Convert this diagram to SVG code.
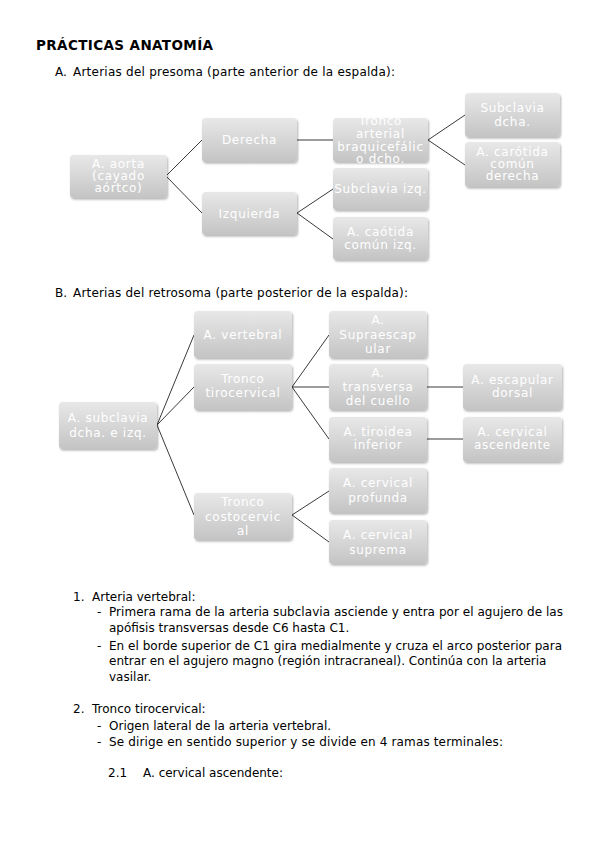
<svg xmlns="http://www.w3.org/2000/svg" width="599" height="848" viewBox="0 0 599 848">
<defs>
<linearGradient id="g" x1="0" y1="0" x2="0" y2="1">
<stop offset="0" stop-color="#e8e8e8"/>
<stop offset="1" stop-color="#c4c4c4"/>
</linearGradient>
<filter id="sh" x="-10%" y="-10%" width="125%" height="130%">
<feDropShadow dx="1" dy="1.5" stdDeviation="1" flood-color="#000" flood-opacity="0.3"/>
</filter>
</defs>
<style>
.bx{fill:url(#g);filter:url(#sh);}
.nt{font-family:"DejaVu Sans",sans-serif;font-size:12px;fill:#ffffff;text-anchor:middle;letter-spacing:0.7px;}
.tx{font-family:"DejaVu Sans",sans-serif;font-size:12px;fill:#000;}
.ti{font-family:"DejaVu Sans",sans-serif;font-size:13.5px;font-weight:bold;fill:#000;}
.cn{stroke:#3a3a3a;stroke-width:1;fill:none;}
</style>
<rect width="599" height="848" fill="#fff"/>

<text class="ti" x="36" y="50" textLength="177">PRÁCTICAS ANATOMÍA</text>
<text class="tx" x="55" y="76">A.</text>
<text class="tx" x="73" y="76" textLength="322">Arterias del presoma (parte anterior de la espalda):</text>
<text class="tx" x="55" y="297">B.</text>
<text class="tx" x="73" y="297" textLength="335">Arterias del retrosoma (parte posterior de la espalda):</text>

<g id="connectors">
<path class="cn" d="M166,176 L202,140 M166,176 L202,213"/>
<path class="cn" d="M297,140 L333,140"/>
<path class="cn" d="M428,140 L465,115 M428,140 L465,165"/>
<path class="cn" d="M297,213 L333,189 M297,213 L333,239"/>
<path class="cn" d="M157,425 L194,335 M157,425 L194,387 M157,425 L194,515"/>
<path class="cn" d="M292,387 L329,335 M292,387 L329,387 M292,387 L329,439"/>
<path class="cn" d="M427,387 L463,387"/>
<path class="cn" d="M427,439 L463,439"/>
<path class="cn" d="M292,515 L329,491 M292,515 L329,542"/>
</g>

<g id="aorta"><rect class="bx" x="70" y="155" width="97" height="43" rx="4"/>
<text class="nt" x="118.5" y="168">A. aorta</text><text class="nt" x="118.5" y="180">(cayado</text><text class="nt" x="118.5" y="192">aórtco)</text></g>
<g id="derecha"><rect class="bx" x="202" y="118" width="95" height="44" rx="4"/>
<text class="nt" x="249.5" y="144">Derecha</text></g>
<g id="izquierda"><rect class="bx" x="202" y="192" width="95" height="43" rx="4"/>
<text class="nt" x="249.5" y="218">Izquierda</text></g>
<g id="tronco-braquicefalico"><rect class="bx" x="333" y="118" width="95" height="44" rx="4"/>
<text class="nt" x="380.5" y="125">Tronco</text><text class="nt" x="380.5" y="138">arterial</text><text class="nt" x="380.5" y="150.5">braquicefálic</text><text class="nt" x="380.5" y="163">o dcho.</text></g>
<g id="subclavia-izq"><rect class="bx" x="333" y="168" width="95" height="42" rx="4"/>
<text class="nt" x="380.5" y="193">Subclavia izq.</text></g>
<g id="carotida-izq"><rect class="bx" x="333" y="217" width="95" height="43" rx="4"/>
<text class="nt" x="380.5" y="236">A. caótida</text><text class="nt" x="380.5" y="249">común izq.</text></g>
<g id="subclavia-dcha"><rect class="bx" x="465" y="93" width="95" height="44" rx="4"/>
<text class="nt" x="512.5" y="112">Subclavia</text><text class="nt" x="512.5" y="126">dcha.</text></g>
<g id="carotida-dcha"><rect class="bx" x="465" y="142" width="95" height="45" rx="4"/>
<text class="nt" x="512.5" y="156">A. carótida</text><text class="nt" x="512.5" y="168">común</text><text class="nt" x="512.5" y="180">derecha</text></g>

<g id="subclavia"><rect class="bx" x="59" y="402" width="98" height="47" rx="4"/>
<text class="nt" x="108" y="422">A. subclavia</text><text class="nt" x="108" y="437">dcha. e izq.</text></g>
<g id="vertebral"><rect class="bx" x="194" y="311" width="98" height="47" rx="4"/>
<text class="nt" x="243" y="339">A. vertebral</text></g>
<g id="tirocervical"><rect class="bx" x="194" y="364" width="98" height="46" rx="4"/>
<text class="nt" x="243" y="383">Tronco</text><text class="nt" x="243" y="397">tirocervical</text></g>
<g id="costocervical"><rect class="bx" x="194" y="493" width="98" height="47" rx="4"/>
<text class="nt" x="243" y="506">Tronco</text><text class="nt" x="243" y="521">costocervic</text><text class="nt" x="243" y="535">al</text></g>
<g id="supraescapular"><rect class="bx" x="329" y="311" width="98" height="47" rx="4"/>
<text class="nt" x="378" y="324">A.</text><text class="nt" x="378" y="339">Supraescap</text><text class="nt" x="378" y="353">ular</text></g>
<g id="transversa"><rect class="bx" x="329" y="364" width="98" height="46" rx="4"/>
<text class="nt" x="378" y="377">A.</text><text class="nt" x="378" y="391">transversa</text><text class="nt" x="378" y="405">del cuello</text></g>
<g id="tiroidea"><rect class="bx" x="329" y="417" width="98" height="45" rx="4"/>
<text class="nt" x="378" y="436">A. tiroidea</text><text class="nt" x="378" y="449">inferior</text></g>
<g id="profunda"><rect class="bx" x="329" y="468" width="98" height="45" rx="4"/>
<text class="nt" x="378" y="487">A. cervical</text><text class="nt" x="378" y="502">profunda</text></g>
<g id="suprema"><rect class="bx" x="329" y="520" width="98" height="44" rx="4"/>
<text class="nt" x="378" y="539">A. cervical</text><text class="nt" x="378" y="554">suprema</text></g>
<g id="escapular-dorsal"><rect class="bx" x="463" y="364" width="99" height="46" rx="4"/>
<text class="nt" x="512.5" y="384">A. escapular</text><text class="nt" x="512.5" y="397">dorsal</text></g>
<g id="cervical-ascendente"><rect class="bx" x="463" y="417" width="99" height="45" rx="4"/>
<text class="nt" x="512.5" y="436">A. cervical</text><text class="nt" x="512.5" y="449">ascendente</text></g>

<text class="tx" x="73" y="601">1.</text>
<text class="tx" x="92" y="601">Arteria vertebral:</text>
<text class="tx" x="97" y="616">-</text>
<text class="tx" x="109" y="616" textLength="454">Primera rama de la arteria subclavia asciende y entra por el agujero de las</text>
<text class="tx" x="109" y="632">apófisis transversas desde C6 hasta C1.</text>
<text class="tx" x="97" y="650">-</text>
<text class="tx" x="109" y="650" textLength="453">En el borde superior de C1 gira medialmente y cruza el arco posterior para</text>
<text class="tx" x="109" y="665">entrar en el agujero magno (región intracraneal). Continúa con la arteria</text>
<text class="tx" x="109" y="681">vasilar.</text>

<text class="tx" x="73" y="713">2.</text>
<text class="tx" x="92" y="713">Tronco tirocervical:</text>
<text class="tx" x="97" y="730">-</text>
<text class="tx" x="109" y="730">Origen lateral de la arteria vertebral.</text>
<text class="tx" x="97" y="746">-</text>
<text class="tx" x="109" y="746" textLength="394">Se dirige en sentido superior y se divide en 4 ramas terminales:</text>
<text class="tx" x="108" y="777">2.1</text>
<text class="tx" x="143" y="777">A. cervical ascendente:</text>
</svg>
